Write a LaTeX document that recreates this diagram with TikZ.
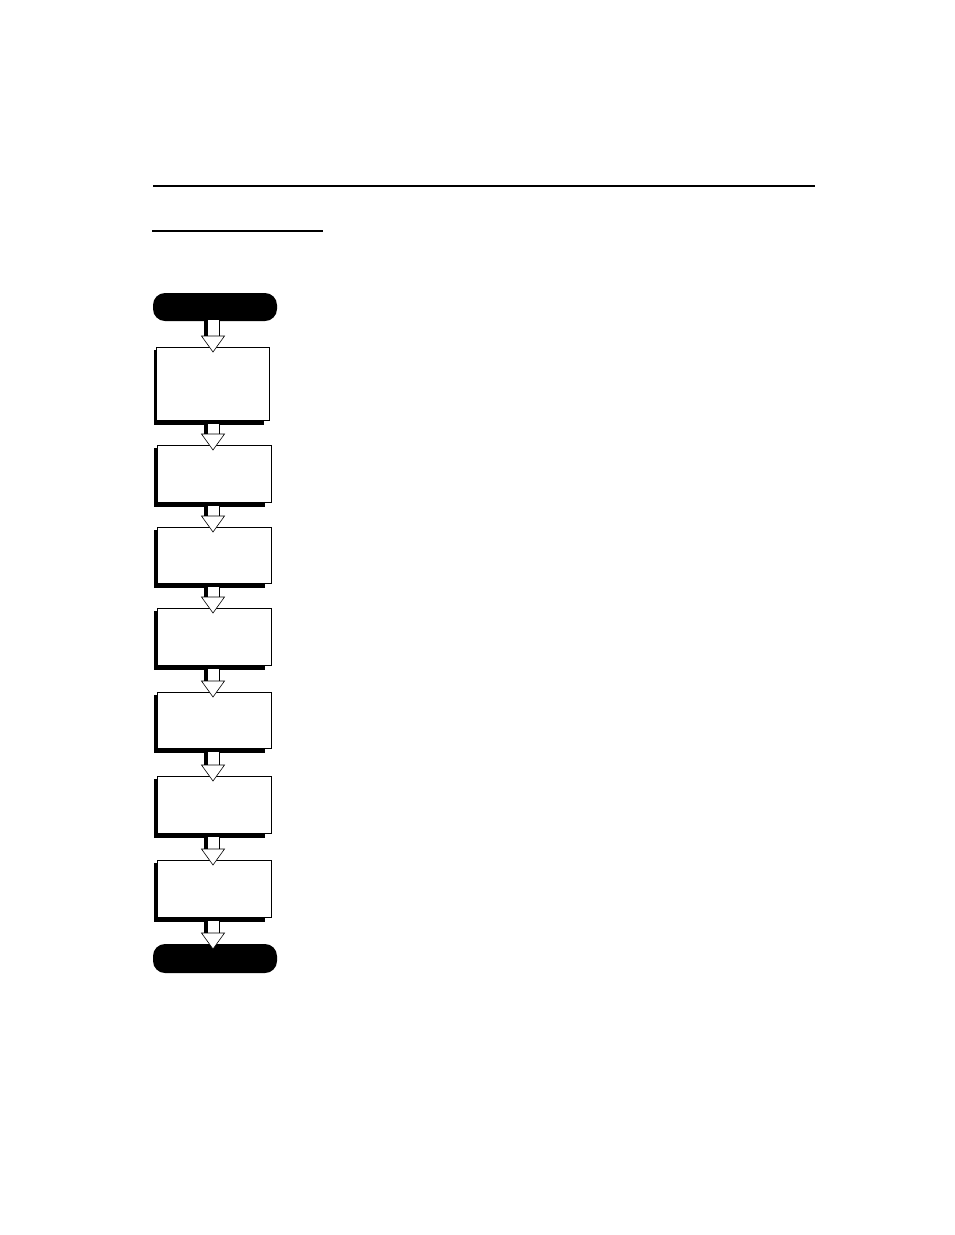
\documentclass[tikz,border=0pt]{standalone}
\usetikzlibrary{calc,backgrounds}
\tikzset{
  flowbox/.style={draw=black,fill=white,line width=1pt,minimum width=114pt,inner sep=0pt,outer sep=0pt},
  pill/.style={fill=black,rounded corners=12pt,minimum width=124pt,inner sep=0pt,outer sep=0pt},
  rule/.style={line width=1.2pt},
  thickrule/.style={line width=2.6pt},
  shaftfill/.style={fill=white},
  shaftedge/.style={draw=black,line width=1.8pt},
  shaftshadow/.style={fill=black},
  arrowhead/.style={fill=white,draw=black,line width=0.6pt,line join=miter},
}
\newcommand\flowarrow[3]{% from, to, shaft start offset
  \path[shaftfill] let \p1=(#1.south), \p2=(#2.north) in (205pt,\y1-#3) rectangle (219pt,\y2+11pt);
  \path[shaftedge] let \p1=(#1.south), \p2=(#2.north) in (219.5pt,\y1-#3) -- (219.5pt,\y2+11pt);
  \path[shaftshadow] let \p1=(#1.south), \p2=(#2.north) in (204pt,\y1-#3) rectangle (208pt,\y2+11pt);
  \path[arrowhead] let \p2=(#2.north) in (201.5pt,\y2+11pt) -- (224.5pt,\y2+11pt) -- (213pt,\y2-5pt) -- cycle;
}
\newcommand\boxshadow[1]{%
  \fill[black] ([shift={(-3pt,-3pt)}]#1.north west) rectangle ([shift={(-6pt,-5pt)}]#1.south east);
}
\begin{document}
\begin{tikzpicture}[x=1pt,y=-1pt]
\useasboundingbox (0,0) rectangle (954,1235);
\coordinate (r1) at (153,186);
\coordinate (r2) at (815,186);
\draw[rule] (r1) -- (r2);
\coordinate (u1) at (152,231);
\coordinate (u2) at (323,231);
\draw[thickrule] (u1) -- (u2);

\node[pill,minimum height=28pt] (start) at (215,307) {};
\node[flowbox,minimum width=113pt,minimum height=73pt] (b1) at (213,383.5) {};
\node[flowbox,minimum height=57pt] (b2) at (214,473.5) {};
\node[flowbox,minimum height=56pt] (b3) at (214,555) {};
\node[flowbox,minimum height=57pt] (b4) at (214,636.5) {};
\node[flowbox,minimum height=56pt] (b5) at (214,720) {};
\node[flowbox,minimum height=57pt] (b6) at (214,804.5) {};
\node[flowbox,minimum height=57pt] (b7) at (214,888.5) {};
\node[pill,minimum height=29pt] (end) at (215,958.5) {};

\begin{scope}[on background layer]
\fill[white] (0,0) rectangle (954,1235);
\foreach \b in {b1,b2,b3,b4,b5,b6,b7} {\boxshadow{\b}}
\end{scope}

\flowarrow{start}{b1}{-1pt}
\flowarrow{b1}{b2}{4pt}
\flowarrow{b2}{b3}{4pt}
\flowarrow{b3}{b4}{4pt}
\flowarrow{b4}{b5}{4pt}
\flowarrow{b5}{b6}{4pt}
\flowarrow{b6}{b7}{4pt}
\flowarrow{b7}{end}{4pt}
\end{tikzpicture}
\end{document}
